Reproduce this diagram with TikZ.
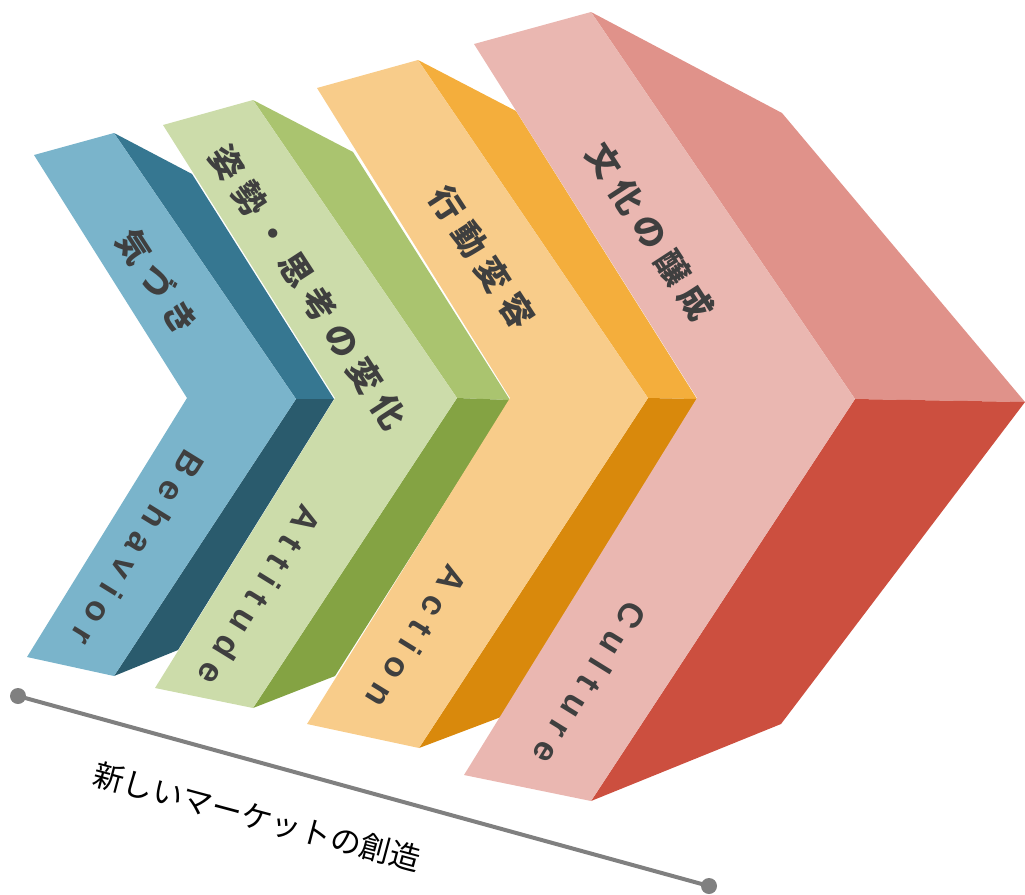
\documentclass[tikz,border=0pt]{standalone}
\usepackage{fontspec}
\usepackage{xcolor}
\newfontfamily\jpfont[LetterSpace=27]{Noto Sans CJK JP}
\newfontfamily\jpplain{Noto Sans CJK JP}
\newfontfamily\enfont[LetterSpace=30]{Liberation Sans}
\usetikzlibrary{positioning, calc}

\definecolor{bluefront}{HTML}{7AB4CB}
\definecolor{bluetop}{HTML}{367791}
\definecolor{bluebot}{HTML}{2A5B6D}
\definecolor{greenfront}{HTML}{CCDCAA}
\definecolor{greentop}{HTML}{AAC46F}
\definecolor{greenbot}{HTML}{84A343}
\definecolor{orangefront}{HTML}{F8CC8A}
\definecolor{orangetop}{HTML}{F4AE3C}
\definecolor{orangebot}{HTML}{D9890C}
\definecolor{pinkfront}{HTML}{EAB7B1}
\definecolor{pinktop}{HTML}{E0928A}
\definecolor{pinkbot}{HTML}{CC4F3F}
\definecolor{labelgray}{HTML}{3F3F3F}
\definecolor{axisgray}{HTML}{808080}

\begin{document}
\begin{tikzpicture}[x=0.75pt, y=-0.75pt,
    jplabel/.style={text=labelgray, font=\jpfont\bfseries\fontsize{25}{25}\selectfont, inner sep=0pt, rotate=-57},
    enlabel/.style={text=labelgray, font=\enfont\bfseries\fontsize{26}{26}\selectfont, inner sep=0pt, rotate=-121.7},
    dot/.style={circle, fill=axisgray, minimum size=12pt, inner sep=0pt}]
\useasboundingbox (0,0) rectangle (1025,894);

% Four chevrons, back to front
\foreach \tl/\tp/\tip/\bt/\bl/\nt/\tb/\pb/\bb/\cfront/\ctop/\cbot in {
    {34,155}/{114,133}/{296,399}/{114,676}/{27,657}/{187,398}/{192,174}/{334,399}/{178,650}/bluefront/bluetop/bluebot,
    {163,125}/{253,100}/{457,398}/{253,708}/{155,688}/{335,398}/{353,152}/{510,400}/{335,676}/greenfront/greentop/greenbot,
    {317,88}/{418,60}/{648,398}/{419,748}/{307,724}/{510,398}/{516,111}/{697,399}/{501,717}/orangefront/orangetop/orangebot,
    {474,44}/{591,12}/{855,399}/{591,801}/{464,775}/{697,398}/{782,113}/{1025,402}/{781,724}/pinkfront/pinktop/pinkbot} {
    \fill[\ctop] (\tp) -- (\tb) -- (\pb) -- (\tip) -- cycle;
    \fill[\cbot] (\tip) -- (\pb) -- (\bb) -- (\bt) -- cycle;
    \fill[\cfront] (\tl) -- (\tp) -- (\tip) -- (\bt) -- (\bl) -- (\nt) -- cycle;
}

% Labels on the chevrons
\node[jplabel] (kizuki) at (157,282) {気づき};
\node[jplabel] (shisei) at (308,287) {姿勢・思考の変化};
\node[jplabel] (kodo) at (482,257) {行動変容};
\node[jplabel] (bunka) at (650,232) {文化の醸成};
\node[enlabel] (behavior) at (138,548) {Behavior};
\node[enlabel] (attitude) at (260,596) {Attitude};
\node[enlabel] (action) at (417,637) {Action};
\node[enlabel] (culture) at (590,683) {Culture};

% Time axis
\node[dot] (axstart) at (18,696) {};
\node[dot] (axend) at (709,886) {};
\draw[axisgray, line width=3pt] (axstart.center) -- (axend.center);
\node[font=\jpplain\fontsize{23}{23}\selectfont, rotate=-15, inner sep=0pt] (market) at (257,817) {新しいマーケットの創造};
\end{tikzpicture}
\end{document}
